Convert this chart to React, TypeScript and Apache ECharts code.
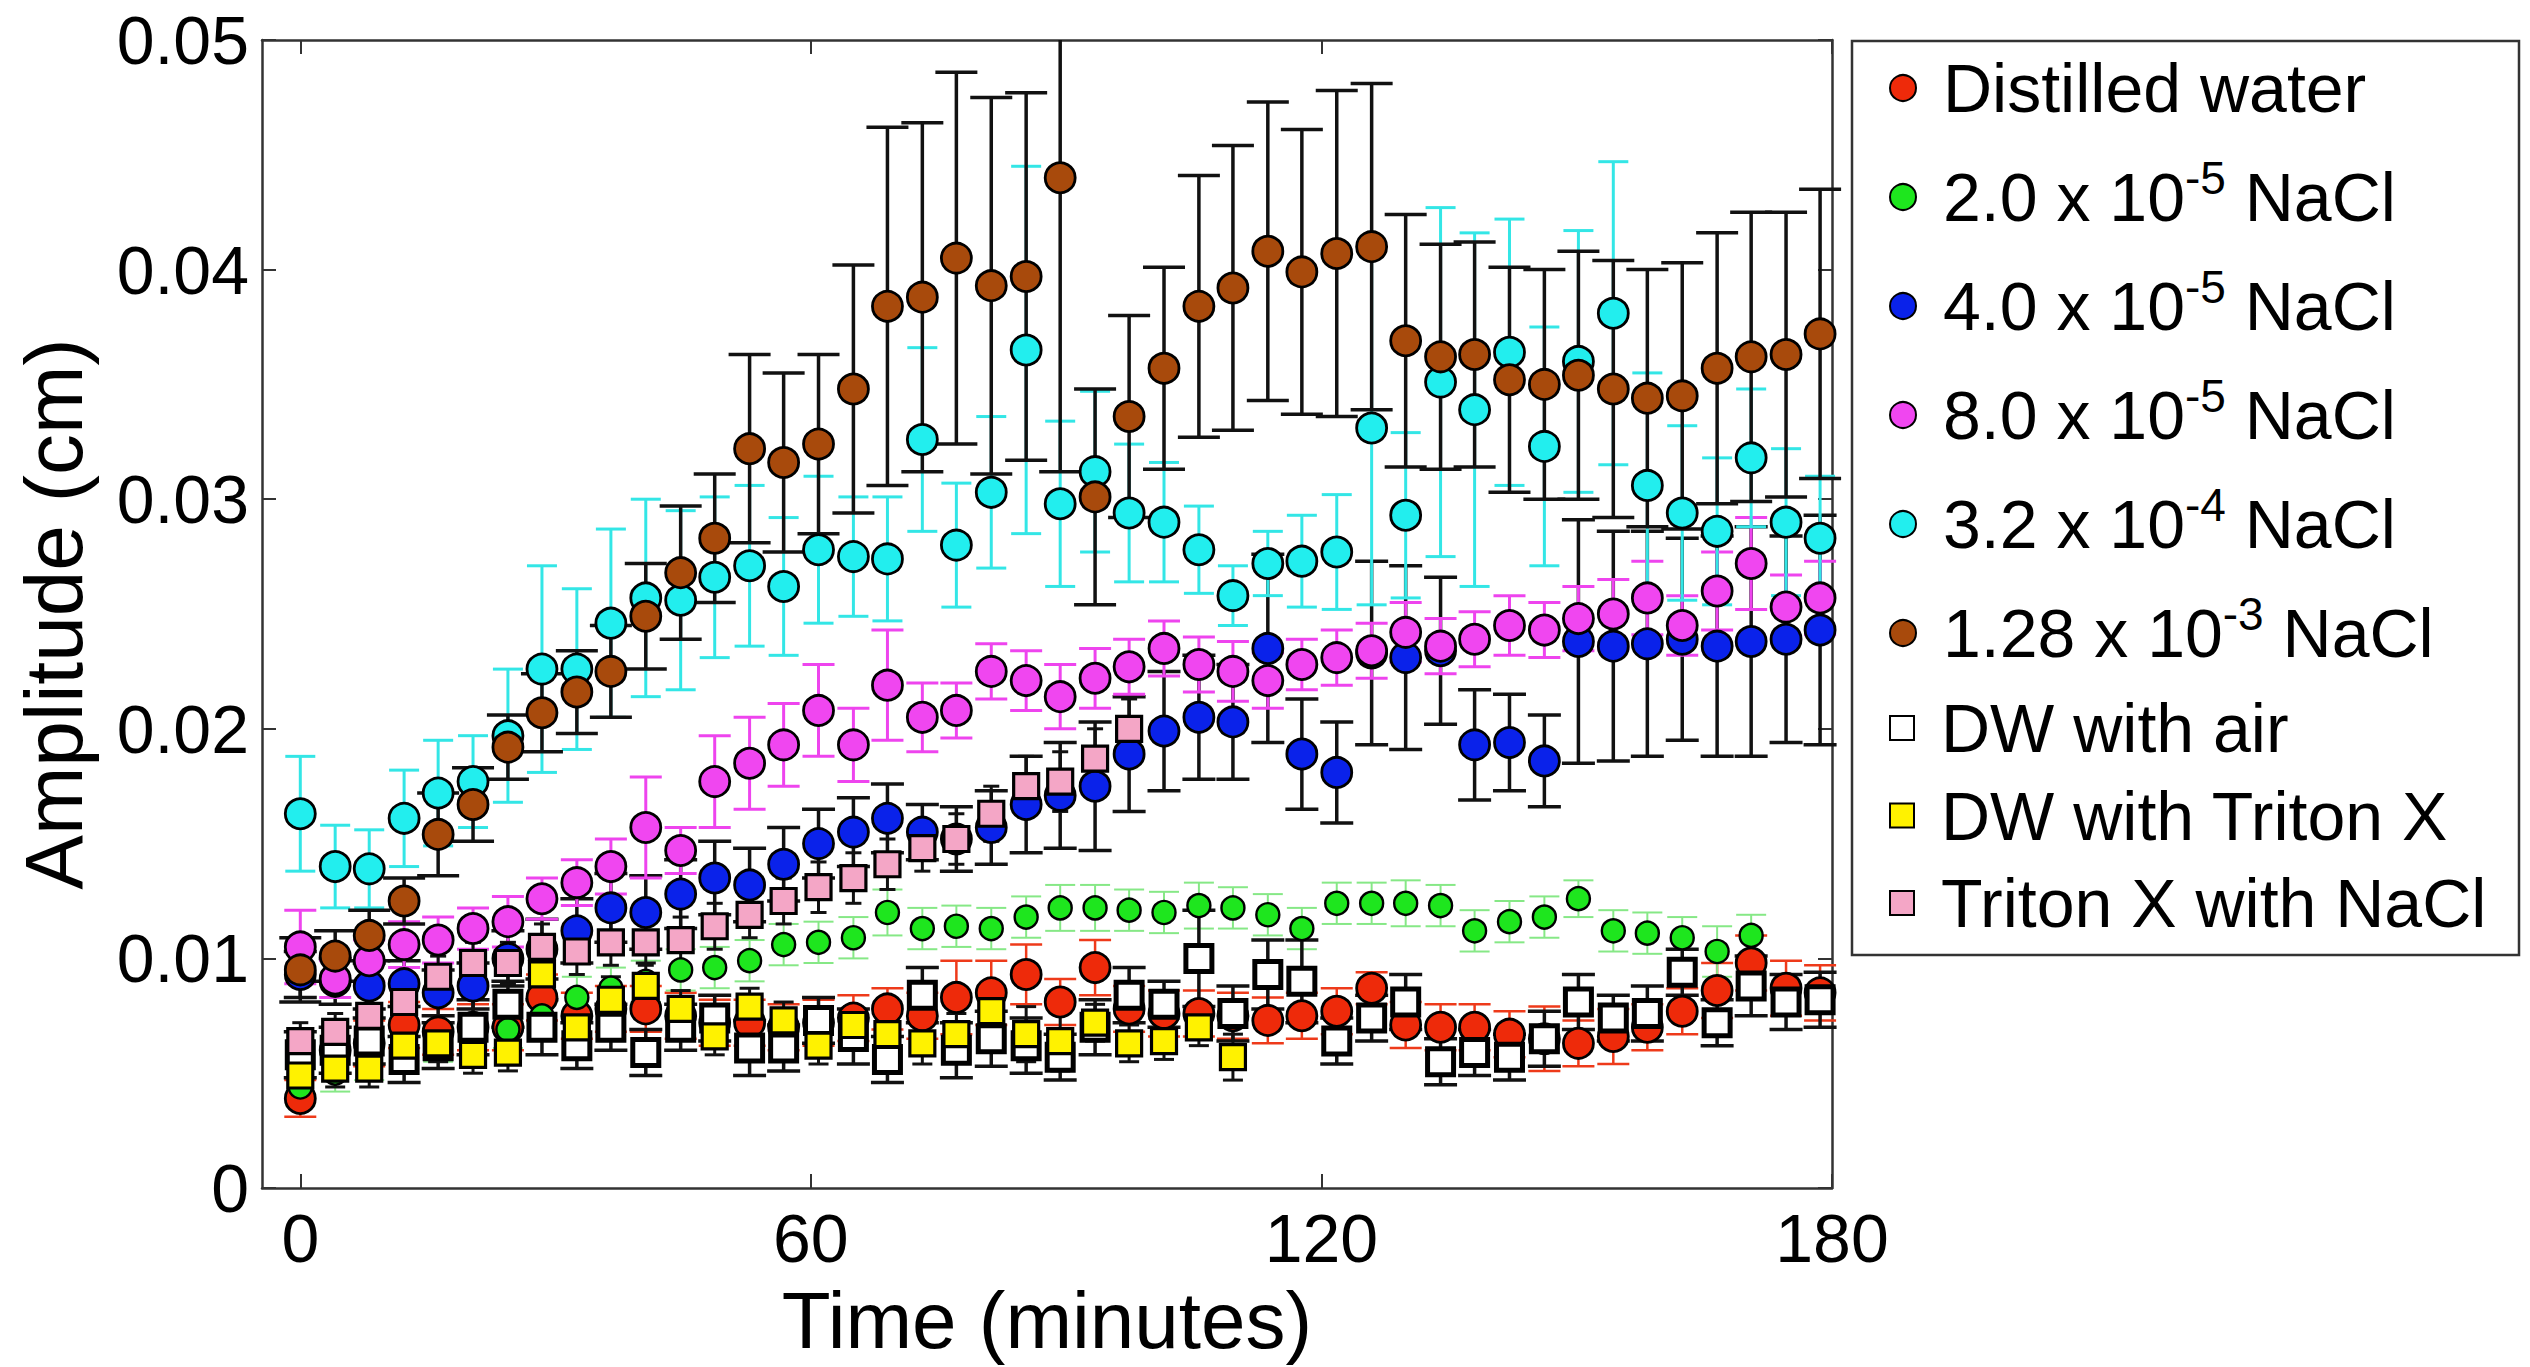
import React, { useEffect, useRef } from "react";
import * as echarts from "echarts";

const FONT = '"Liberation Sans", Arial, Helvetica, sans-serif';

// Measurement times (minutes)
const times = [
  0, 4.1, 8.1, 12.2, 16.2, 20.3, 24.4, 28.4, 32.5, 36.5,
  40.6, 44.7, 48.7, 52.8, 56.8, 60.9, 65.0, 69.0, 73.1, 77.1,
  81.2, 85.3, 89.3, 93.4, 97.4, 101.5, 105.6, 109.6, 113.7, 117.7,
  121.8, 125.9, 129.9, 134.0, 138.0, 142.1, 146.2, 150.2, 154.3, 158.3,
  162.4, 166.5, 170.5, 174.6, 178.6,
];
const xTickValues = [0, 60, 120, 180];

// Distilled water
const distilledWater = [
  0.0039, 0.0060, 0.0063, 0.0071, 0.0068, 0.0070, 0.0070, 0.0083, 0.0075, 0.0078,
  0.0078, 0.0075, 0.0072, 0.0072, 0.0070, 0.0072, 0.0074, 0.0078, 0.0075, 0.0083,
  0.0085, 0.0093, 0.0081, 0.0096, 0.0078, 0.0076, 0.0076, 0.0075, 0.0073, 0.0075,
  0.0077, 0.0087, 0.0071, 0.0070, 0.0070, 0.0067, 0.0065, 0.0063, 0.0066, 0.0070,
  0.0077, 0.0086, 0.0098, 0.0087, 0.0085,
];
const distilledWaterErr = [
  0.0008, 0.0010, 0.0010, 0.0010, 0.0010, 0.0010, 0.0010, 0.0010, 0.0010, 0.0010,
  0.0010, 0.0010, 0.0010, 0.0010, 0.0010, 0.0010, 0.0010, 0.0009, 0.0010, 0.0016,
  0.0014, 0.0013, 0.0010, 0.0012, 0.0010, 0.0010, 0.0010, 0.0010, 0.0010, 0.0010,
  0.0010, 0.0007, 0.0010, 0.0010, 0.0010, 0.0010, 0.0014, 0.0010, 0.0012, 0.0010,
  0.0010, 0.0012, 0.0012, 0.0012, 0.0012,
];

// 2.0 x 10^-5 NaCl
const nacl20e5 = [
  0.0044, 0.0050, 0.0055, 0.0060, 0.0063, 0.0066, 0.0069, 0.0075, 0.0083, 0.0087,
  0.0090, 0.0095, 0.0096, 0.0099, 0.0106, 0.0107, 0.0109, 0.0120, 0.0113, 0.0114,
  0.0113, 0.0118, 0.0122, 0.0122, 0.0121, 0.0120, 0.0123, 0.0122, 0.0119, 0.0113,
  0.0124, 0.0124, 0.0124, 0.0123, 0.0112, 0.0116, 0.0118, 0.0126, 0.0112, 0.0111,
  0.0109, 0.0103, 0.0110,
];
const nacl20e5Err = [
  0.0008, 0.0008, 0.0008, 0.0008, 0.0008, 0.0008, 0.0008, 0.0008, 0.0009, 0.0009,
  0.0009, 0.0009, 0.0009, 0.0009, 0.0009, 0.0009, 0.0009, 0.0010, 0.0009, 0.0009,
  0.0009, 0.0009, 0.0010, 0.0010, 0.0009, 0.0009, 0.0010, 0.0009, 0.0009, 0.0009,
  0.0009, 0.0009, 0.0010, 0.0009, 0.0009, 0.0009, 0.0009, 0.0008, 0.0009, 0.0009,
  0.0009, 0.0011, 0.0009,
];

// 4.0 x 10^-5 NaCl
const nacl40e5 = [
  0.0093, 0.0090, 0.0088, 0.0089, 0.0085, 0.0088, 0.0100, 0.0104, 0.0112, 0.0122,
  0.0120, 0.0128, 0.0135, 0.0132, 0.0141, 0.0150, 0.0155, 0.0161, 0.0155, 0.0152,
  0.0157, 0.0167, 0.0171, 0.0175, 0.0189, 0.0199, 0.0205, 0.0203, 0.0235, 0.0189,
  0.0181, 0.0233, 0.0231, 0.0234, 0.0193, 0.0194, 0.0186, 0.0238, 0.0236, 0.0237,
  0.0239, 0.0236, 0.0238, 0.0239, 0.0243,
];
const nacl40e5Err = [
  0.0010, 0.0010, 0.0010, 0.0010, 0.0010, 0.0010, 0.0012, 0.0013, 0.0014, 0.0015,
  0.0016, 0.0015, 0.0016, 0.0016, 0.0016, 0.0015, 0.0015, 0.0015, 0.0012, 0.0014,
  0.0016, 0.0021, 0.0023, 0.0028, 0.0025, 0.0026, 0.0027, 0.0025, 0.0041, 0.0024,
  0.0022, 0.0040, 0.0040, 0.0032, 0.0024, 0.0021, 0.0020, 0.0053, 0.0050, 0.0049,
  0.0044, 0.0048, 0.0050, 0.0045, 0.0050,
];

// 8.0 x 10^-5 NaCl
const nacl80e5 = [
  0.0105, 0.0091, 0.0099, 0.0106, 0.0108, 0.0113, 0.0116, 0.0126, 0.0133, 0.0140,
  0.0157, 0.0147, 0.0177, 0.0185, 0.0193, 0.0208, 0.0193, 0.0219, 0.0205, 0.0208,
  0.0225, 0.0221, 0.0214, 0.0222, 0.0227, 0.0235, 0.0228, 0.0225, 0.0221, 0.0228,
  0.0231, 0.0234, 0.0242, 0.0236, 0.0239, 0.0245, 0.0243, 0.0248, 0.0250, 0.0257,
  0.0245, 0.0260, 0.0272, 0.0253, 0.0257,
];
const nacl80e5Err = [
  0.0016, 0.0008, 0.0009, 0.0010, 0.0010, 0.0009, 0.0011, 0.0009, 0.0010, 0.0012,
  0.0022, 0.0010, 0.0020, 0.0020, 0.0018, 0.0020, 0.0016, 0.0024, 0.0015, 0.0012,
  0.0012, 0.0013, 0.0014, 0.0013, 0.0012, 0.0012, 0.0012, 0.0013, 0.0012, 0.0011,
  0.0012, 0.0012, 0.0013, 0.0012, 0.0012, 0.0013, 0.0012, 0.0014, 0.0015, 0.0016,
  0.0013, 0.0017, 0.0020, 0.0014, 0.0016,
];

// 3.2 x 10^-4 NaCl
const nacl32e4 = [
  0.0163, 0.0140, 0.0139, 0.0161, 0.0172, 0.0177, 0.0197, 0.0226, 0.0226, 0.0246,
  0.0257, 0.0256, 0.0266, 0.0271, 0.0262, 0.0278, 0.0275, 0.0274, 0.0326, 0.0280,
  0.0303, 0.0365, 0.0298, 0.0312, 0.0294, 0.0290, 0.0278, 0.0258, 0.0272, 0.0273,
  0.0277, 0.0331, 0.0293, 0.0351, 0.0339, 0.0364, 0.0323, 0.0360, 0.0381, 0.0306,
  0.0294, 0.0286, 0.0318, 0.0290, 0.0283,
];
const nacl32e4Err = [
  0.0025, 0.0018, 0.0017, 0.0021, 0.0023, 0.0020, 0.0029, 0.0045, 0.0035, 0.0041,
  0.0043, 0.0039, 0.0035, 0.0035, 0.0030, 0.0032, 0.0026, 0.0027, 0.0040, 0.0027,
  0.0033, 0.0080, 0.0036, 0.0035, 0.0030, 0.0026, 0.0019, 0.0013, 0.0014, 0.0020,
  0.0025, 0.0077, 0.0036, 0.0076, 0.0077, 0.0058, 0.0052, 0.0057, 0.0066, 0.0049,
  0.0038, 0.0032, 0.0030, 0.0032, 0.0027,
];

// 1.28 x 10^-3 NaCl
const nacl128e3 = [
  0.0095, 0.0101, 0.0110, 0.0125, 0.0154, 0.0167, 0.0192, 0.0207, 0.0216, 0.0225,
  0.0249, 0.0268, 0.0283, 0.0322, 0.0316, 0.0324, 0.0348, 0.0384, 0.0388, 0.0405,
  0.0393, 0.0397, 0.0440, 0.0301, 0.0336, 0.0357, 0.0384, 0.0392, 0.0408, 0.0399,
  0.0407, 0.0410, 0.0369, 0.0362, 0.0363, 0.0352, 0.0350, 0.0354, 0.0348, 0.0344,
  0.0345, 0.0357, 0.0362, 0.0363, 0.0372,
];
const nacl128e3Err = [
  0.0014, 0.0011, 0.0011, 0.0010, 0.0018, 0.0016, 0.0014, 0.0017, 0.0018, 0.0020,
  0.0023, 0.0029, 0.0028, 0.0041, 0.0039, 0.0039, 0.0054, 0.0078, 0.0076, 0.0081,
  0.0082, 0.0080, 0.0128, 0.0047, 0.0044, 0.0044, 0.0057, 0.0062, 0.0065, 0.0062,
  0.0071, 0.0071, 0.0055, 0.0049, 0.0049, 0.0049, 0.0050, 0.0054, 0.0056, 0.0056,
  0.0058, 0.0059, 0.0063, 0.0062, 0.0063,
];

// DW with air
const dwAir = [
  0.0058, 0.0060, 0.0064, 0.0056, 0.0062, 0.0070, 0.0080, 0.0070, 0.0062, 0.0070,
  0.0059, 0.0070, 0.0074, 0.0061, 0.0061, 0.0073, 0.0066, 0.0056, 0.0084, 0.0060,
  0.0065, 0.0062, 0.0057, 0.0070, 0.0084, 0.0080, 0.0100, 0.0076, 0.0093, 0.0090,
  0.0064, 0.0074, 0.0081, 0.0055, 0.0059, 0.0057, 0.0065, 0.0081, 0.0074, 0.0076,
  0.0094, 0.0072, 0.0088, 0.0081, 0.0082,
];
const dwAirErr = [
  0.0010, 0.0010, 0.0010, 0.0010, 0.0010, 0.0012, 0.0010, 0.0012, 0.0010, 0.0010,
  0.0010, 0.0010, 0.0010, 0.0012, 0.0010, 0.0010, 0.0012, 0.0010, 0.0012, 0.0012,
  0.0012, 0.0012, 0.0010, 0.0012, 0.0012, 0.0010, 0.0021, 0.0012, 0.0015, 0.0018,
  0.0010, 0.0010, 0.0012, 0.0010, 0.0010, 0.0010, 0.0012, 0.0012, 0.0010, 0.0012,
  0.0010, 0.0010, 0.0013, 0.0012, 0.0012,
];

// DW with Triton X
const dwTriton = [
  0.0049, 0.0052, 0.0052, 0.0062, 0.0063, 0.0058, 0.0059, 0.0093, 0.0070, 0.0082,
  0.0088, 0.0078, 0.0066, 0.0079, 0.0073, 0.0062, 0.0071, 0.0067, 0.0063, 0.0067,
  0.0077, 0.0067, 0.0064, 0.0072, 0.0063, 0.0064, 0.0070, 0.0057,
];
const dwTritonErr = [
  0.0008, 0.0008, 0.0008, 0.0008, 0.0008, 0.0008, 0.0008, 0.0010, 0.0008, 0.0010,
  0.0010, 0.0008, 0.0008, 0.0008, 0.0008, 0.0008, 0.0008, 0.0008, 0.0009, 0.0009,
  0.0008, 0.0012, 0.0013, 0.0008, 0.0008, 0.0008, 0.0008, 0.0010,
];

// Triton X with NaCl
const tritonNacl = [
  0.0064, 0.0068, 0.0075, 0.0081, 0.0092, 0.0098, 0.0098, 0.0105, 0.0103, 0.0107,
  0.0107, 0.0108, 0.0114, 0.0119, 0.0125, 0.0131, 0.0135, 0.0141, 0.0148, 0.0152,
  0.0163, 0.0175, 0.0177, 0.0187, 0.0200,
];
const tritonNaclErr = [
  0.0008, 0.0008, 0.0008, 0.0009, 0.0009, 0.0009, 0.0009, 0.0010, 0.0010, 0.0010,
  0.0010, 0.0010, 0.0010, 0.0010, 0.0010, 0.0011, 0.0011, 0.0011, 0.0010, 0.0011,
  0.0012, 0.0013, 0.0013, 0.0013, 0.0013,
];

const X_MIN = -4.5;
const X_MAX = 180;
const Y_MIN = 0;
const Y_MAX = 0.05;

const BLACK = "#111111";

const specs = [
  { name: "Distilled water", values: distilledWater, errors: distilledWaterErr, color: "#ee2a0a", symbol: "circle", size: 30, bw: 2.8, errColor: "#ee3a1a", errWidth: 2.5, cap: 32 },
  { name: "2.0 x 10^-5 NaCl", values: nacl20e5, errors: nacl20e5Err, color: "#1ee61e", symbol: "circle", size: 23, bw: 2.4, errColor: "#86e886", errWidth: 2, cap: 30 },
  { name: "4.0 x 10^-5 NaCl", values: nacl40e5, errors: nacl40e5Err, color: "#0a22ea", symbol: "circle", size: 30, bw: 2.8, errColor: BLACK, errWidth: 3.5, cap: 33 },
  { name: "8.0 x 10^-5 NaCl", values: nacl80e5, errors: nacl80e5Err, color: "#f046f0", symbol: "circle", size: 30, bw: 2.8, errColor: "#ee44ee", errWidth: 3, cap: 32 },
  { name: "3.2 x 10^-4 NaCl", values: nacl32e4, errors: nacl32e4Err, color: "#22eeee", symbol: "circle", size: 30, bw: 2.8, errColor: "#33e6e6", errWidth: 3, cap: 30 },
  { name: "1.28 x 10^-3 NaCl", values: nacl128e3, errors: nacl128e3Err, color: "#a84a0c", symbol: "circle", size: 30, bw: 2.8, errColor: BLACK, errWidth: 3.5, cap: 42 },
  { name: "DW with air", values: dwAir, errors: dwAirErr, color: "#ffffff", symbol: "rect", size: 26, bw: 5, errColor: BLACK, errWidth: 3.5, cap: 33 },
  { name: "DW with Triton X", values: dwTriton, errors: dwTritonErr, color: "#fff200", symbol: "rect", size: 25, bw: 3.2, errColor: BLACK, errWidth: 3, cap: 20 },
  { name: "Triton X with NaCl", values: tritonNacl, errors: tritonNaclErr, color: "#f4a6c6", symbol: "rect", size: 25, bw: 3.2, errColor: BLACK, errWidth: 3, cap: 16 },
];

const makeErrorRender = (color: string, width: number, cap: number) => (params: any, api: any) => {
  const x = api.value(0);
  const y = api.value(1);
  const e = api.value(2);
  const hi = Math.min(y + e, Y_MAX);
  const lo = Math.max(y - e, Y_MIN);
  const pHi = api.coord([x, hi]);
  const pLo = api.coord([x, lo]);
  const h = cap / 2;
  const st = { stroke: color, lineWidth: width, fill: "none" };
  const children: any[] = [
    { type: "line", shape: { x1: pHi[0], y1: pHi[1], x2: pLo[0], y2: pLo[1] }, style: st },
  ];
  if (y + e <= Y_MAX) children.push({ type: "line", shape: { x1: pHi[0] - h, y1: pHi[1], x2: pHi[0] + h, y2: pHi[1] }, style: st });
  if (y - e >= Y_MIN) children.push({ type: "line", shape: { x1: pLo[0] - h, y1: pLo[1], x2: pLo[0] + h, y2: pLo[1] }, style: st });
  return { type: "group", children };
};

const legendFormatter = (name: string) => {
  const m = name.match(/^(.*10)\^(-\d+)(.*)$/);
  if (m) return `{f|${m[1]}}{s|${m[2]}}{n|${m[3]}}`;
  return `{f|${name}}`;
};

const legendRich = (lh: number) => ({
  f: { fontSize: 68, fontFamily: FONT, color: "#000", lineHeight: lh, padding: [0, 0, 0, 22] },
  n: { fontSize: 68, fontFamily: FONT, color: "#000", lineHeight: lh },
  s: { fontSize: 46, fontFamily: FONT, color: "#000", lineHeight: 30, verticalAlign: "top" },
});

const legendItem = (s: any) => ({
  name: s.name,
  icon: s.symbol === "rect" ? "rect" : "circle",
  itemStyle: { color: s.color, borderColor: "#000", borderWidth: 2 },
});

export default function App() {
  const ref = useRef<HTMLDivElement>(null);

  useEffect(() => {
    if (!ref.current) return;
    const chart = echarts.init(ref.current, undefined, { renderer: "svg" });

    const series: any[] = [];
    specs.forEach((s, i) => {
      const pts: any[] = [];
      s.values.forEach((v, k) => {
        if (v != null) pts.push([times[k], v, s.errors[k]]);
      });
      series.push({
        type: "custom",
        name: `errorbars-${i}`,
        silent: true,
        data: pts,
        encode: { x: 0, y: 1 },
        renderItem: makeErrorRender(s.errColor, s.errWidth, s.cap),
        z: 2,
      });
      series.push({
        type: "scatter",
        name: s.name,
        data: pts.map((p) => [p[0], p[1]]),
        symbol: s.symbol,
        symbolSize: s.size,
        itemStyle: { color: s.color, borderColor: "#000", borderWidth: s.bw, opacity: 1 },
        emphasis: { disabled: true },
        z: 2,
      });
    });

    const axisLineStyle = { color: "#333", width: 2.5 };
    const tickStyle = { color: "#333", width: 2 };

    chart.setOption({
      animation: false,
      backgroundColor: "#fff",
      grid: { left: 262, right: 698, top: 40, bottom: 179, containLabel: false, outerBoundsMode: "none" },
      xAxis: [
        {
          type: "value",
          min: X_MIN,
          max: X_MAX,
          position: "bottom",
          axisLine: { show: true, onZero: false, lineStyle: axisLineStyle },
          axisTick: { show: true, inside: true, length: 14, customValues: xTickValues, lineStyle: tickStyle },
          axisLabel: { customValues: xTickValues, fontSize: 68, fontFamily: FONT, color: "#000", margin: 16 },
          splitLine: { show: false },
          name: "Time (minutes)",
          nameLocation: "middle",
          nameGap: 92,
          nameTextStyle: { fontSize: 80, lineHeight: 80, fontFamily: FONT, color: "#000" },
        },
        {
          type: "value",
          min: X_MIN,
          max: X_MAX,
          position: "top",
          axisLine: { show: true, onZero: false, lineStyle: axisLineStyle },
          axisTick: { show: true, inside: true, length: 14, customValues: xTickValues, lineStyle: tickStyle },
          axisLabel: { show: false },
          splitLine: { show: false },
        },
      ],
      yAxis: [
        {
          type: "value",
          min: Y_MIN,
          max: Y_MAX,
          interval: 0.01,
          position: "left",
          axisLine: { show: true, onZero: false, lineStyle: axisLineStyle },
          axisTick: { show: true, inside: true, length: 14, lineStyle: tickStyle },
          axisLabel: {
            fontSize: 68,
            fontFamily: FONT,
            color: "#000",
            margin: 13,
            formatter: (v: number) => (v === 0 ? "0" : v.toFixed(2)),
          },
          splitLine: { show: false },
          name: "Amplitude (cm)",
          nameLocation: "middle",
          nameGap: 168,
          nameRotate: 90,
          nameTextStyle: { fontSize: 82, fontFamily: FONT, color: "#000" },
        },
        {
          type: "value",
          min: Y_MIN,
          max: Y_MAX,
          interval: 0.01,
          position: "right",
          axisLine: { show: true, onZero: false, lineStyle: axisLineStyle },
          axisTick: { show: true, inside: true, length: 14, lineStyle: tickStyle },
          axisLabel: { show: false },
          splitLine: { show: false },
        },
      ],
      legend: [
        {
          orient: "vertical",
          left: 1889,
          top: 54,
          padding: 0,
          itemGap: 33,
          itemWidth: 26,
          itemHeight: 26,
          selectedMode: false,
          formatter: legendFormatter,
          textStyle: { fontFamily: FONT, fontSize: 68, color: "#000", rich: legendRich(84) },
          data: specs.slice(0, 6).map(legendItem),
        },
        {
          orient: "vertical",
          left: 1889,
          top: 694,
          padding: 0,
          itemGap: 19.5,
          itemWidth: 24,
          itemHeight: 24,
          selectedMode: false,
          formatter: legendFormatter,
          textStyle: { fontFamily: FONT, fontSize: 68, color: "#000", rich: legendRich(70) },
          data: specs.slice(6).map(legendItem),
        },
      ],
      graphic: {
        elements: [
          {
            type: "rect",
            silent: true,
            shape: { x: 1852, y: 41, width: 667, height: 914 },
            style: { fill: "none", stroke: "#333", lineWidth: 2.5 },
          },
        ],
      },
      series,
    });

    return () => chart.dispose();
  }, []);

  return (
    <div
      ref={ref}
      style={{ position: "fixed", left: 0, top: 0, width: 2530, height: 1367, background: "#fff" }}
    />
  );
}
